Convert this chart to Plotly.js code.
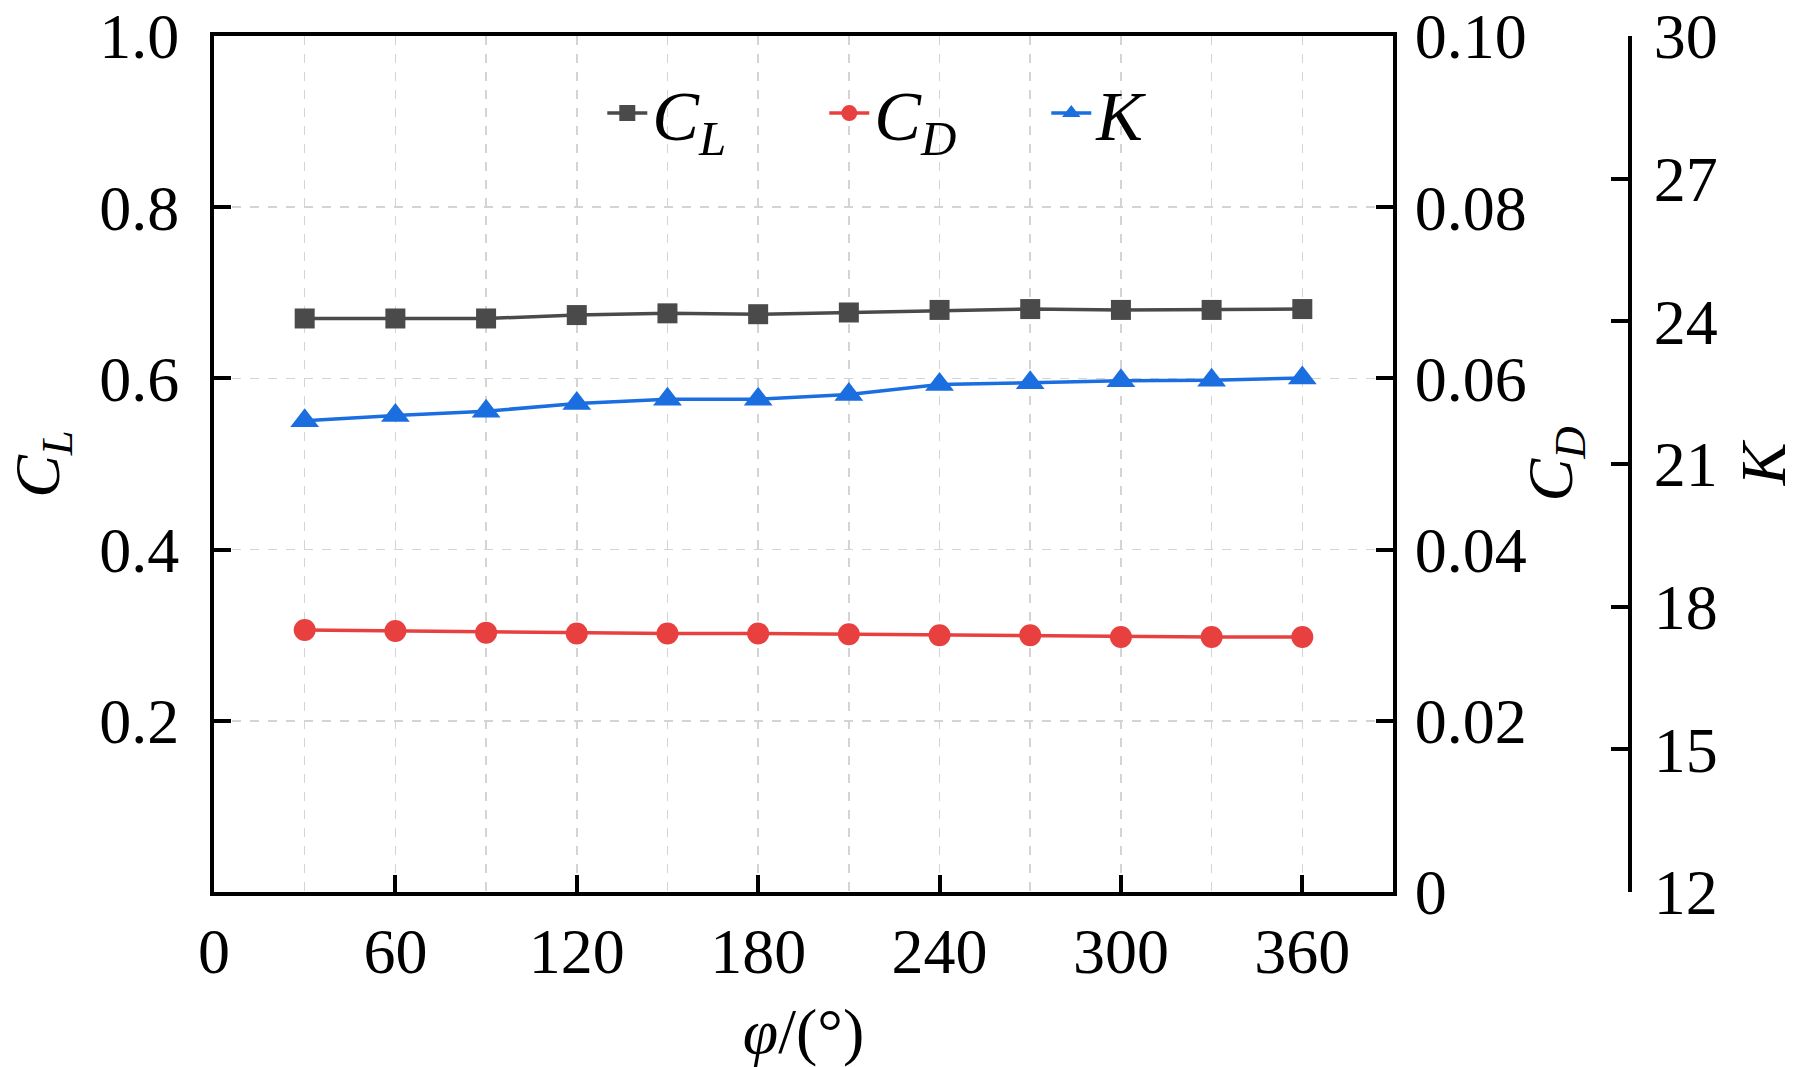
<!DOCTYPE html>
<html>
<head>
<meta charset="utf-8">
<script src="https://cdn.plot.ly/plotly-3.0.1.min.js"></script>
<style>
  html, body { margin: 0; padding: 0; background: #fff; }
  #graph { width: 1819px; height: 1067px; }
</style>
</head>
<body>
<div id="graph"></div>
<script>
// phase angle, degrees
var phi = [30, 60, 90, 120, 150, 180, 210, 240, 270, 300, 330, 360];
// lift coefficient
var CL = [0.670, 0.670, 0.670, 0.674, 0.676, 0.675, 0.677, 0.680, 0.681, 0.680, 0.680, 0.681];
// drag coefficient
var CD = [0.0306, 0.0305, 0.0303, 0.0302, 0.0302, 0.0302, 0.0301, 0.0300, 0.0300, 0.0298, 0.0298, 0.0298];
// lift-drag ratio
var K = [21.91, 22.02, 22.11, 22.27, 22.36, 22.36, 22.46, 22.67, 22.71, 22.75, 22.76, 22.81];

var xTicks = [0, 60, 120, 180, 240, 300, 360];
var clTicks = [0.2, 0.4, 0.6, 0.8, 1.0];
var cdTicks = [0, 0.02, 0.04, 0.06, 0.08, 0.10];
var cdLabels = ['0', '0.02', '0.04', '0.06', '0.08', '0.10'];
var kTicks = [12, 15, 18, 21, 24, 27, 30];

var FONT = 'Liberation Serif, Times New Roman, serif';

// paper is 1505px wide; main box ends at 1179px, K axis sits at 1414px (whole pixels keep the lines crisp)
var xMax = 390;
var plotEnd = 1179 / 1505;
var kAxisPos = 1414 / 1505;

function makeTrace(y, name, xaxis, yaxis, color, symbol, size) {
    return {
        x: phi,
        y: y,
        name: name,
        xaxis: xaxis,
        yaxis: yaxis,
        type: 'scatter',
        mode: 'lines+markers',
        line: { color: color, width: 3.5 },
        marker: { color: color, symbol: symbol, size: size }
    };
}

var data = [
    makeTrace(CL, '<i>C</i><sub><i>L</i></sub>', 'x', 'y', '#4a4a4a', 'square', 20),
    makeTrace(CD, '<i>C</i><sub><i>D</i></sub>', 'x', 'y2', '#e8403f', 'circle', 22),
    makeTrace(K, '<i>K</i>', 'x2', 'y3', '#1b6ee0', 'triangle-up', 25)
];

var axisCommon = {
    showline: true,
    linecolor: '#000',
    linewidth: 4,
    ticks: 'inside',
    ticklen: 17,
    tickwidth: 4,
    tickcolor: '#000',
    tickfont: { family: FONT, size: 64, color: '#000' },
    zeroline: false,
    fixedrange: true
};

var layout = {
    width: 1819,
    height: 1067,
    paper_bgcolor: '#fff',
    plot_bgcolor: 'rgba(0,0,0,0)',
    margin: { l: 214, r: 100, t: 36, b: 175, pad: 0 },
    font: { family: FONT, color: '#000' },
    showlegend: true,
    legend: {
        orientation: 'h',
        x: 0.258,
        y: 0.91,
        xanchor: 'left',
        yanchor: 'middle',
        font: { family: FONT, size: 70, color: '#000' },
        bgcolor: 'rgba(0,0,0,0)',
        entrywidth: 167,
        entrywidthmode: 'pixels',
        itemwidth: 40,
        tracegroupgap: 0
    },
    xaxis: Object.assign({}, axisCommon, {
        domain: [0, plotEnd],
        range: [0, xMax],
        tickvals: xTicks,
        mirror: true,
        showgrid: true,
        gridcolor: '#d4d4d4',
        gridwidth: 1.5,
        griddash: 'dash',
        minor: { dtick: 30, tick0: 0, showgrid: true, gridcolor: '#d4d4d4', gridwidth: 1.5, griddash: 'dash', ticks: '' },
        ticklabelstandoff: 0,
        title: { text: '<i>φ</i>/(°)', font: { family: FONT, size: 64 }, standoff: 26 }
    }),
    // hidden x axis with the same pixel scale, stretched out to the K axis
    xaxis2: {
        domain: [0, kAxisPos],
        range: [0, xMax * kAxisPos / plotEnd],
        visible: false,
        fixedrange: true
    },
    yaxis: Object.assign({}, axisCommon, {
        range: [0, 1],
        tickvals: clTicks,
        tickformat: '.1f',
        showgrid: true,
        gridcolor: '#d4d4d4',
        gridwidth: 1.5,
        griddash: 'dash',
        ticklabelstandoff: 18,
        title: { text: '<i>C</i><sub><i>L</i></sub>', font: { family: FONT, size: 64 }, standoff: 20 }
    }),
    yaxis2: Object.assign({}, axisCommon, {
        range: [0, 0.1],
        tickvals: cdTicks,
        ticktext: cdLabels,
        overlaying: 'y',
        side: 'right',
        anchor: 'x',
        showgrid: false,
        ticklabelstandoff: 5,
        title: { text: '<i>C</i><sub><i>D</i></sub>', font: { family: FONT, size: 64 }, standoff: 2 }
    }),
    yaxis3: Object.assign({}, axisCommon, {
        domain: [0, 1],
        range: [12, 30],
        tickvals: kTicks,
        side: 'right',
        anchor: 'x2',
        showgrid: false,
        ticklabelstandoff: 9,
        title: { text: '<i>K</i>', font: { family: FONT, size: 64 }, standoff: 24 }
    })
};

Plotly.newPlot('graph', data, layout, { displayModeBar: false, staticPlot: true });
</script>
</body>
</html>
